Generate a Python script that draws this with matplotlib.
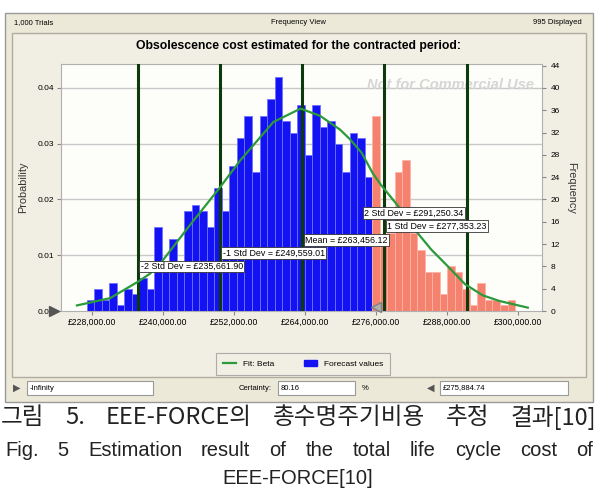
import numpy as np
import matplotlib
matplotlib.use("Agg")
from matplotlib import pyplot as plt
from matplotlib.patches import Rectangle, Patch
from matplotlib.lines import Line2D

plt.rcParams['font.family'] = ['Liberation Sans', 'DejaVu Sans']

n_trials = 1000
bin_start = 227050
bin_width = 1270
counts_below = [2, 4, 2, 5, 1, 4, 3, 6, 4, 15,
                8, 13, 8, 18, 19, 18, 15, 22, 18, 26,
                31, 35, 25, 35, 38, 42, 34, 32, 37, 28,
                37, 33, 34, 30, 25, 32, 31, 24]
counts_above = [35, 13, 14, 25, 27, 14, 11, 7, 7, 3,
                8, 7, 4, 1, 5, 2, 2, 1, 2]

fit_x = [225400, 231000, 235800, 237750, 239700, 244500, 249450, 253000,
         258600, 263200, 266500, 269900, 271550, 273500, 275400, 276800,
         279700, 282500, 285300, 288100, 291000, 294000, 296800, 301600]
fit_y = [1.0, 2.3, 5.3, 6.7, 8.8, 15.4, 22.0, 27.0,
         33.9, 36.3, 35.0, 32.5, 30.8, 28.4, 24.7, 22.6,
         18.8, 14.6, 11.0, 8.0, 4.8, 2.8, 1.8, 0.6]

stat_names = ["-2 Std Dev", "-1 Std Dev", "Mean", "1 Std Dev", "2 Std Dev"]
stat_values = [235661.90, 249559.01, 263456.12, 277353.23, 291250.34]
stat_label_y = [8.0, 10.4, 12.7, 15.2, 17.6]

x_ticks = [228000, 240000, 252000, 264000, 276000, 288000, 300000]
prob_ticks = [0.00, 0.01, 0.02, 0.03, 0.04]
freq_ticks = list(range(0, 45, 4))
certainty_upper = 275884.74

W, H = 598, 491
fig = plt.figure(figsize=(W / 100, H / 100), dpi=100)
fig.patch.set_facecolor("white")


def fbox(x0, y0, x1, y1, fc, ec, lw=1.0, z=-5):
    fig.patches.append(Rectangle((x0 / W, 1 - y1 / H), (x1 - x0) / W, (y1 - y0) / H,
                                 transform=fig.transFigure, fc=fc, ec=ec, lw=lw, zorder=z))


def ftext(x, y, s, **kw):
    return fig.text(x / W, 1 - y / H, s, **kw)


def justify(words, y, x0, x1, **kw):
    # spread words over [x0, x1] like the justified caption of the paper
    r = fig.canvas.get_renderer()
    txts = [ftext(x0, y, w_, va="center", ha="left", **kw) for w_ in words]
    widths = [t.get_window_extent(r).width for t in txts]
    gap = (x1 - x0 - sum(widths)) / (len(words) - 1)
    x = x0
    for t, wd in zip(txts, widths):
        t.set_x(x / W)
        x += wd + gap


beige = "#ece9d8"
# window frame
fbox(5, 13, 593, 402, beige, "#9a9a9a", 1.0, -6)
fbox(12, 33, 586, 377, "#f1efe4", "#b0ada0", 1.0, -5)
ftext(14, 23, "1,000 Trials", fontsize=5.5, va="center", ha="left")
ftext(298, 23, "Frequency View", fontsize=5.5, va="center", ha="center")
ftext(582, 23, "995 Displayed", fontsize=5.5, va="center", ha="right")
ftext(299, 46, "Obsolescence cost estimated for the contracted period:",
      fontsize=8.8, fontweight="bold", va="center", ha="center")

# bottom controls
ftext(17, 388, "\u25b6", fontsize=7, va="center", ha="center", color="#555555",
      family="DejaVu Sans")
fbox(27, 381, 153, 395, "white", "#9a9a9a", 0.8, -4)
ftext(30, 388, "-Infinity", fontsize=5.5, va="center", ha="left")
ftext(272, 388, "Certainty:", fontsize=5.5, va="center", ha="right")
fbox(278, 381, 355, 395, "white", "#9a9a9a", 0.8, -4)
ftext(281, 388, "80.16", fontsize=5.5, va="center", ha="left")
ftext(362, 388, "%", fontsize=5.5, va="center", ha="left")
ftext(431, 388, "\u25c0", fontsize=7, va="center", ha="center", color="#555555",
      family="DejaVu Sans")
fbox(440, 381, 568, 395, "white", "#9a9a9a", 0.8, -4)
ftext(443, 388, "\u00a3275,884.74", fontsize=5.5, va="center", ha="left")

# histogram
ax = fig.add_axes([61 / W, 1 - 311 / H, (542 - 61) / W, (311 - 64) / H])
ax.set_facecolor("#fdfdfa")
counts = counts_below + counts_above
lefts = bin_start + bin_width * np.arange(len(counts))
n_below = len(counts_below)
colors = ["#1212f2"] * n_below + ["#f5826f"] * len(counts_above)
edges = ["#7070ff"] * n_below + ["#ffb4a6"] * len(counts_above)
ax.bar(lefts, counts, width=bin_width, align="edge", color=colors,
       edgecolor=edges, linewidth=0.6, zorder=2)

for c in prob_ticks[1:]:
    ax.axhline(c * n_trials, color="#c8c8c8", lw=1.0, zorder=1)

ax.plot(fit_x, fit_y, color="#2a9a3a", lw=1.6, zorder=4)

for name, val, ly in zip(stat_names, stat_values, stat_label_y):
    ax.axvline(val, color="#0c3a0c", lw=2.2, zorder=3)
    label = "{0} = \u00a3{1:,.2f}".format(name, val)
    ha = "right" if name == "2 Std Dev" else "left"
    off = -500 if ha == "right" else 500
    ax.text(val + off, ly, label, fontsize=6.4, ha=ha, va="center", zorder=6,
            bbox=dict(boxstyle="square,pad=0.15", fc="white", ec="#333333", lw=0.6))

ax.text(0.81, 0.915, "Not for Commercial Use", transform=ax.transAxes,
        fontsize=10.5, fontweight="bold", style="italic", color="#d6d6d6",
        ha="center", va="center", zorder=1.5)

ax.set_xlim(222710, 304000)
ax.set_ylim(0, 44.3)
ax.set_xticks(x_ticks)
ax.set_xticklabels(["\u00a3{0:,.2f}".format(v) for v in x_ticks], fontsize=6.2)
ax.set_yticks([p * n_trials for p in prob_ticks])
ax.set_yticklabels(["{0:.2f}".format(p) for p in prob_ticks], fontsize=6)
ax.tick_params(length=3, color="#888888", pad=2)
for s in ax.spines.values():
    s.set_color("#b0b0b0")
ax.set_ylabel("Probability", fontsize=7.8, color="#333333", labelpad=7)

ax2 = ax.twinx()
ax2.set_ylim(ax.get_ylim())
ax2.set_yticks(freq_ticks)
ax2.set_yticklabels([str(v) for v in freq_ticks], fontsize=6)
ax2.tick_params(length=3, color="#888888", pad=3)
for s in ax2.spines.values():
    s.set_visible(False)
ax2.set_ylabel("Frequency", fontsize=7.8, color="#333333", rotation=270, labelpad=12)

# certainty grabbers
ax.plot([-0.015], [0], marker=">", ms=7, color="#555555",
        transform=ax.get_yaxis_transform(), clip_on=False, zorder=7)
ax.plot([certainty_upper], [0.8], marker="<", ms=7, color="#b0b0b0",
        mec="#808080", clip_on=False, zorder=7)

# legend
handles = [Line2D([], [], color="#2a9a3a", lw=1.6),
           Patch(fc="#1212f2", ec="#1212f2")]
leg = fig.legend(handles, ["Fit: Beta", "Forecast values"], ncol=2,
                 loc="center", bbox_to_anchor=(303 / W, 1 - 364 / H),
                 fontsize=6, frameon=True, fancybox=False, edgecolor="#9a9a9a",
                 facecolor="#f1efe4", handlelength=1.6, columnspacing=3.6,
                 borderpad=0.8)
leg.get_frame().set_linewidth(0.8)

# caption
kr_words = ["그림", "5.", "EEE-FORCE의", "총수명주기비용", "추정", "결과[10]"]
justify(kr_words, 418, 1, 596, fontsize=17,
        family=["Noto Sans CJK KR", "DejaVu Sans"], color="#222222")
en_words = ["Fig.", "5", "Estimation", "result", "of", "the", "total", "life",
            "cycle", "cost", "of"]
justify(en_words, 451, 5, 593, fontsize=14.5, color="#222222")
ftext(298, 478, "EEE-FORCE[10]", fontsize=14.5, va="center", ha="center",
      color="#222222")

fig.savefig("out.png", dpi=100, facecolor="white")
